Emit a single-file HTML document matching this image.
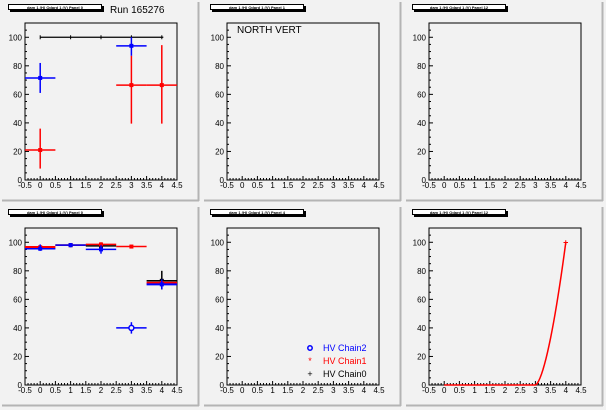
<!DOCTYPE html>
<html><head><meta charset="utf-8"><style>
html,body{margin:0;padding:0;background:#f2f2f2;}
svg{display:block;font-family:"Liberation Sans",sans-serif;}
</style></head><body>
<svg id="s" width="606" height="410" xmlns="http://www.w3.org/2000/svg"></svg>
<script>
const s=document.getElementById('s');let h='';
const pads=[[0,0],[202,0],[404,0],[0,205],[202,205],[404,205]];
const titles=["Panel 0","Panel 1","Panel 12","Panel 0","Panel 4","Panel 12"];
function mk(ox,oy){const L=ox+25,R=ox+177,T=oy+23,B=oy+180;
 return {L,R,T,B,X:v=>L+(v+0.5)*(R-L)/5,Y:v=>B-v*(B-T)/110};}
pads.forEach((p,i)=>{const [ox,oy]=p;const f=mk(ox,oy);
 h+=`<line x1="${ox+198.5}" y1="${oy+2}" x2="${ox+198.5}" y2="${oy+201}" stroke="#b4b4b4" stroke-width="2"/>`;
 h+=`<line x1="${ox+2}" y1="${oy+200.5}" x2="${ox+199}" y2="${oy+200.5}" stroke="#b4b4b4" stroke-width="2"/>`;
 h+=`<rect x="${ox+10}" y="${oy+6}" width="94" height="6" fill="#000"/><rect x="${ox+8.5}" y="${oy+4.5}" width="93" height="5" fill="#fff" stroke="#000"/>`;
 h+=`<text x="${ox+55}" y="${oy+9}" font-size="4" text-anchor="middle" font-weight="bold">dam 1 (H) Odard 1 (V) ${titles[i]}</text>`;
 h+=`<rect x="${f.L}" y="${f.T}" width="${f.R-f.L}" height="${f.B-f.T}" fill="none" stroke="#000"/>`;
 for(let v=0;v<=110;v+=5){const y=f.Y(v),l=v%20==0?4:2;h+=`<line x1="${f.L}" y1="${y}" x2="${f.L+l}" y2="${y}" stroke="#000"/>`;
  if(v%20==0)h+=`<text x="${f.L-3}" y="${y+3}" font-size="8" text-anchor="end">${v}</text>`;}
 for(let k=0;k<=50;k++){const v=-0.5+k*0.1,x=f.X(v),l=k%5==0?4:2;h+=`<line x1="${x}" y1="${f.B}" x2="${x}" y2="${f.B-l}" stroke="#000"/>`;
  if(k%5==0){let t=(Math.round(v*10)/10).toString();h+=`<text x="${x}" y="${f.B+8}" font-size="8" text-anchor="middle">${t}</text>`;}}
});
function pt(f,c,x,y,xl,xh,yl,yh,w){w=w||1.5;
 h+=`<line x1="${f.X(xl)}" y1="${f.Y(y)}" x2="${f.X(xh)}" y2="${f.Y(y)}" stroke="${c}" stroke-width="${w}"/>`;
 h+=`<line x1="${f.X(x)}" y1="${f.Y(yl)}" x2="${f.X(x)}" y2="${f.Y(yh)}" stroke="${c}" stroke-width="1.5"/>`;
 h+=`<rect x="${f.X(x)-2}" y="${f.Y(y)-2}" width="4" height="4" fill="${c}"/>`;}
let f=mk(0,0);
h+=`<text x="110" y="13" font-size="10">Run 165276</text>`;
h+=`<line x1="${f.X(0)}" y1="${f.Y(100)}" x2="${f.X(4.05)}" y2="${f.Y(100)}" stroke="#000" stroke-width="1.2"/>`;
for(let k=0;k<=4;k++)h+=`<line x1="${f.X(k)}" y1="${f.Y(100)-2}" x2="${f.X(k)}" y2="${f.Y(100)+2}" stroke="#000"/>`;
pt(f,'#00f',0,71.5,-0.5,0.5,61,82);pt(f,'#00f',3,94,2.5,3.5,87,100);
pt(f,'red',0,21,-0.5,0.5,8,36);pt(f,'red',3,66.5,2.5,3.5,39.5,87);pt(f,'red',4,66.5,3.5,4.5,39.5,94.5);
h+=`<text x="237" y="33" font-size="10">NORTH VERT</text>`;
f=mk(0,205);
pt(f,'#000',4,73,3.5,4.5,67,80);pt(f,'#000',1,98,0.5,1.5,97,99);pt(f,'#000',2,97.5,1.5,2.5,96,99);
pt(f,'red',0,96.5,-0.5,0.5,95,98,2.5);pt(f,'red',1,98,0.5,1.5,97,99);pt(f,'red',2,98.5,1.5,2.5,97,100);pt(f,'red',3,97,2.5,3.5,96,98);pt(f,'red',4,71.5,3.5,4.5,70,73,2.5);
pt(f,'#00f',0,95.5,-0.5,0.5,94,98.5);pt(f,'#00f',1,98,0.5,1.5,96.5,99.5);pt(f,'#00f',2,95,1.5,2.5,92,98);pt(f,'#00f',3,40,2.5,3.5,36,44);pt(f,'#00f',4,70.5,3.5,4.5,67,74,2);
h+=`<circle cx="${f.X(3)}" cy="${f.Y(40)}" r="2.5" fill="#f2f2f2" stroke="#00f" stroke-width="1.5"/>`;
// legend
h+=`<circle cx="310" cy="348" r="2.2" fill="none" stroke="#00f" stroke-width="1.5"/><text x="323" y="351" font-size="9" fill="#00f">HV Chain2</text>`;
h+=`<text x="310" y="364" font-size="9" fill="red" text-anchor="middle">*</text><text x="323" y="364" font-size="9" fill="red">HV Chain1</text>`;
h+=`<text x="310" y="377" font-size="9" text-anchor="middle">+</text><text x="323" y="377" font-size="9">HV Chain0</text>`;
f=mk(404,205);
let d=`M${f.X(0)} ${f.Y(0)} L${f.X(3)} ${f.Y(0)}`;
for(let k=0;k<=20;k++){const x=3+k/20;const y=100*Math.pow(k/20,1.6);d+=` L${f.X(x)} ${f.Y(y)}`;}
h+=`<path d="${d}" fill="none" stroke="red" stroke-width="1.5"/>`;
h+=`<text x="${f.X(4)}" y="${f.Y(100)+3}" font-size="9" fill="red" text-anchor="middle" font-weight="bold">+</text>`;
s.innerHTML=h;
</script>
</body></html>
